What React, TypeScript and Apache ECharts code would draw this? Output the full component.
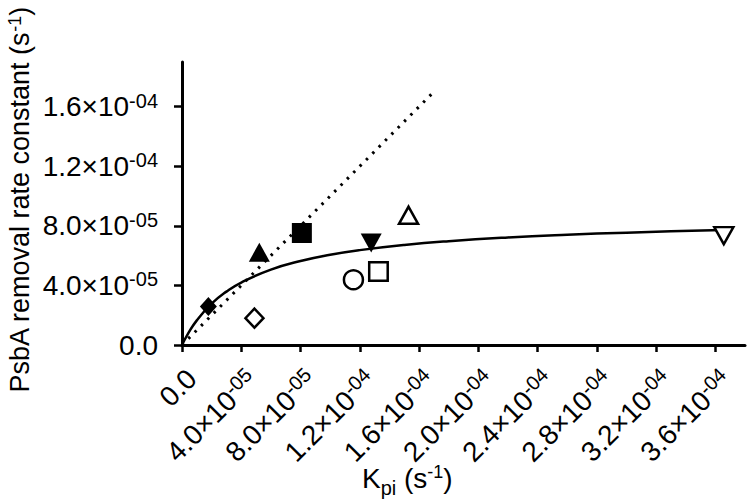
import React, { useEffect, useRef } from "react";
import * as echarts from "echarts";

// ---- data ----
const sampleX = [1.78e-5, 4.89e-5, 5.22e-5, 8.09e-5, 1.157e-4, 1.326e-4, 1.277e-4, 1.529e-4, 3.657e-4];
const sampleY = [2.58e-5, 1.8e-5, 6.23e-5, 7.52e-5, 4.38e-5, 4.94e-5, 6.85e-5, 8.71e-5, 7.34e-5];

// fitted saturation curve (solid)
const curveX = [0, 0.4e-5, 1e-5, 2e-5, 3e-5, 4e-5, 6e-5, 8e-5, 1.0e-4, 1.2e-4, 1.5e-4, 1.8e-4, 2.2e-4, 2.6e-4, 3.0e-4, 3.3e-4, 3.65e-4];
const curveY = [0, 0.748e-5, 1.654e-5, 2.774e-5, 3.583e-5, 4.195e-5, 5.059e-5, 5.639e-5, 6.056e-5, 6.37e-5, 6.719e-5, 6.973e-5, 7.221e-5, 7.404e-5, 7.544e-5, 7.629e-5, 7.713e-5];

// dotted 1:1 line
const dottedX = [0, 1.7e-4];
const dottedY = [0, 1.7e-4];

// axis ticks and labels
const xTickValues = [0, 4e-5, 8e-5, 1.2e-4, 1.6e-4, 2.0e-4, 2.4e-4, 2.8e-4, 3.2e-4, 3.6e-4];
const xTickLabels = ["0.0", "4.0×10^-05", "8.0×10^-05", "1.2×10^-04", "1.6×10^-04", "2.0×10^-04", "2.4×10^-04", "2.8×10^-04", "3.2×10^-04", "3.6×10^-04"];
const yTickValues = [0, 4e-5, 8e-5, 1.2e-4, 1.6e-4];
const yTickLabels = ["0.0", "4.0×10^-05", "8.0×10^-05", "1.2×10^-04", "1.6×10^-04"];
const xMax = 3.8e-4;
const yMax = 1.9e-4;

// ---- styles ----
const FONT = "Liberation Sans, Arial, sans-serif";
type Marker = { symbol: string; size: number | number[]; rotate?: number; open: boolean };
const markers: Marker[] = [
  { symbol: "diamond", size: [17, 19], open: false },
  { symbol: "diamond", size: [18, 19], open: true },
  { symbol: "triangle", size: [21, 19], open: false },
  { symbol: "rect", size: 20, open: false },
  { symbol: "circle", size: 19, open: true },
  { symbol: "rect", size: 18.5, open: true },
  { symbol: "triangle", size: [21, 19], rotate: 180, open: false },
  { symbol: "triangle", size: [19, 17], open: true },
  { symbol: "triangle", size: [19, 17], rotate: 180, open: true },
];

const richFormatter = (values: number[], labels: string[]) => (v: number) => {
  const i = values.findIndex((t) => Math.abs(t - v) < 1e-10);
  if (i < 0) return "";
  const [m, e] = labels[i].split("^");
  return e ? `{mant|${m}}{expo|${e}}` : `{mant|${m}}`;
};
const tickRich = {
  mant: { fontSize: 28, fontFamily: FONT, color: "#000" },
  expo: { fontSize: 20, fontFamily: FONT, color: "#000", padding: [0, 0, 12, 0] },
};

export default function App() {
  const ref = useRef<HTMLDivElement>(null);
  useEffect(() => {
    if (!ref.current) return;
    const chart = echarts.init(ref.current, undefined, { renderer: "svg" });
    const option: any = {
      animation: false,
      backgroundColor: "#fff",
      grid: { left: 182, right: 2, top: 62, bottom: 157, containLabel: false, outerBoundsMode: "none" },
      xAxis: {
        type: "value",
        min: 0,
        max: xMax,
        splitLine: { show: false },
        axisLine: { show: true, onZero: false, lineStyle: { color: "#000", width: 3 } },
        axisTick: { show: true, customValues: xTickValues, length: 7, lineStyle: { color: "#000", width: 2.5 } },
        axisLabel: {
          customValues: xTickValues,
          rotate: 45,
          margin: 19,
          align: "right",
          verticalAlign: "top",
          fontSize: 28,
          fontFamily: FONT,
          color: "#000",
          formatter: richFormatter(xTickValues, xTickLabels),
          rich: tickRich,
        },
      },
      yAxis: {
        type: "value",
        min: 0,
        max: yMax,
        splitLine: { show: false },
        axisLine: { show: true, onZero: false, lineStyle: { color: "#000", width: 3 } },
        axisTick: { show: true, customValues: yTickValues, length: 8, lineStyle: { color: "#000", width: 2.5 } },
        axisLabel: {
          customValues: yTickValues,
          margin: 24,
          fontSize: 28,
          fontFamily: FONT,
          color: "#000",
          formatter: richFormatter(yTickValues, yTickLabels),
          rich: tickRich,
        },
      },
      graphic: [
        {
          type: "text",
          x: 362,
          y: 478,
          style: {
            text: "{n|K}{sub|pi}{n| (s}{sup|-1}{n|)}",
            align: "left",
            verticalAlign: "middle",
            fill: "#000",
            fontFamily: FONT,
            fontSize: 28,
            rich: {
              n: { fontSize: 28, lineHeight: 40, verticalAlign: "middle", fontFamily: FONT, fill: "#000" },
              sub: { fontSize: 20, lineHeight: 20, verticalAlign: "bottom", fontFamily: FONT, fill: "#000" },
              sup: { fontSize: 18, lineHeight: 18, padding: [5, 0, 0, 0], verticalAlign: "top", fontFamily: FONT, fill: "#000" },
            },
          },
        },
        {
          type: "text",
          x: 19.5,
          y: 200,
          rotation: Math.PI / 2,
          style: {
            text: "{n|PsbA removal rate constant (s}{sup|-1}{n|)}",
            align: "center",
            verticalAlign: "middle",
            fill: "#000",
            fontFamily: FONT,
            fontSize: 27,
            rich: {
              n: { fontSize: 27, lineHeight: 28, verticalAlign: "bottom", fontFamily: FONT, fill: "#000" },
              sup: { fontSize: 18, lineHeight: 18, padding: [0, 0, 22, 0], verticalAlign: "top", fontFamily: FONT, fill: "#000" },
            },
          },
        },
      ],
      series: [
        {
          type: "line",
          data: dottedX.map((x, i) => [x, dottedY[i]]),
          symbol: "none",
          lineStyle: { color: "#000", width: 3, type: [2.5, 6.5], cap: "butt" },
          z: 2,
        },
        {
          type: "line",
          data: curveX.map((x, i) => [x, curveY[i]]),
          symbol: "none",
          smooth: true,
          lineStyle: { color: "#000", width: 2.5 },
          z: 3,
        },
        {
          type: "scatter",
          z: 5,
          data: sampleX.map((x, i) => {
            const m = markers[i];
            return {
              value: [x, sampleY[i]],
              symbol: m.symbol,
              symbolSize: m.size,
              symbolRotate: m.rotate || 0,
              itemStyle: m.open
                ? { color: "#fff", borderColor: "#000", borderWidth: 2.5, opacity: 1 }
                : { color: "#000", borderWidth: 0, opacity: 1 },
            };
          }),
        },
      ],
    };
    chart.setOption(option);
    return () => chart.dispose();
  }, []);
  return (
    <div
      ref={ref}
      style={{ position: "fixed", left: 0, top: 0, width: 747, height: 502, background: "#fff" }}
    />
  );
}
